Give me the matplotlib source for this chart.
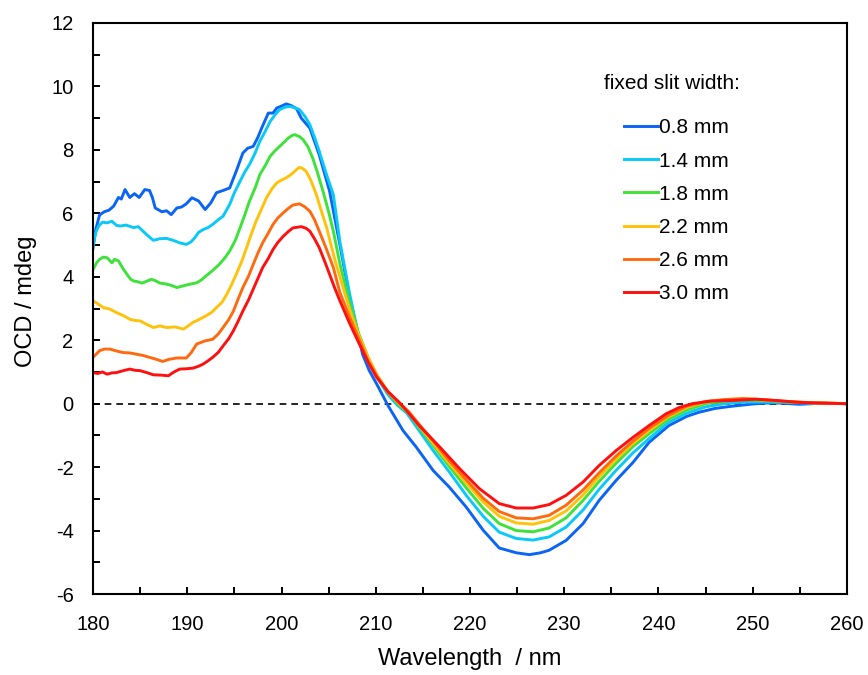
import matplotlib
matplotlib.use("Agg")
import matplotlib.pyplot as plt

plt.rcParams['font.family'] = ['Liberation Sans', 'DejaVu Sans']
plt.rcParams['axes.unicode_minus'] = False

labels = ["0.8 mm", "1.4 mm", "1.8 mm", "2.2 mm", "2.6 mm", "3.0 mm"]
colors = ["#0a64f5", "#0ac8f8", "#3ee23a", "#ffc20a", "#ff6a10", "#ff1010"]

wl_08 = [180.0, 180.3, 180.7, 181.2, 181.7, 182.2, 182.7, 183.0, 183.4, 183.9, 184.4, 184.9, 185.5, 186.0,
         186.3, 186.6, 187.3, 187.8, 188.3, 188.9, 189.4, 189.9, 190.5, 191.2, 191.9, 192.5, 193.1, 193.8,
         194.5, 195.2, 195.9, 196.4, 197.0, 197.5, 197.9, 198.6, 199.1, 199.5, 200.0, 200.5, 201.0, 201.6,
         202.1, 203.0, 204.0, 205.1, 206.2, 207.2, 208.2, 208.6, 209.3, 210.1, 211.3, 212.9, 214.3, 216.1,
         217.8, 219.6, 221.4, 223.1, 224.9, 226.3, 227.5, 228.4, 230.2, 232.0, 233.7, 235.5, 237.3, 239.0,
         241.1, 243.0, 244.3, 246.0, 247.8, 250.0, 251.4, 253.0, 254.9, 257.0, 260.0]
ocd_08 = [4.9, 5.5, 5.95, 6.05, 6.1, 6.23, 6.5, 6.45, 6.75, 6.5, 6.62, 6.5, 6.75, 6.72,
          6.5, 6.17, 6.05, 6.08, 5.96, 6.17, 6.2, 6.3, 6.49, 6.39, 6.12, 6.33, 6.65, 6.72,
          6.8, 7.33, 7.9, 8.05, 8.11, 8.4, 8.69, 9.16, 9.16, 9.32, 9.38, 9.45, 9.4, 9.3,
          9.0, 8.69, 7.85, 6.7, 5.0, 3.4, 2.1, 1.56, 1.05, 0.62, -0.06, -0.85, -1.37, -2.11,
          -2.63, -3.26, -3.99, -4.55, -4.7, -4.76, -4.7, -4.62, -4.31, -3.78, -3.05, -2.42, -1.85, -1.22,
          -0.69, -0.4, -0.27, -0.15, -0.08, -0.01, 0.02, 0.02, -0.02, 0.01, 0.0]

wl_14 = [180.0, 180.3, 180.6, 181.0, 181.5, 182.0, 182.5, 182.9, 183.5, 184.3, 184.8, 185.3, 185.8, 186.4,
         187.1, 187.8, 188.5, 189.2, 189.9, 190.4, 190.8, 191.2, 191.7, 192.2, 192.7, 193.3, 193.8, 194.5,
         195.0, 195.6, 196.1, 196.6, 197.2, 197.7, 198.3, 198.8, 199.3, 199.8, 200.4, 200.9, 201.4, 201.9,
         202.5, 203.0, 203.5, 204.0, 204.8, 205.5, 206.2, 207.2, 208.2, 209.2, 210.1, 211.3, 212.3, 213.3,
         214.6, 216.1, 217.8, 219.6, 221.4, 223.1, 224.9, 226.7, 228.4, 230.2, 232.0, 233.7, 235.5, 237.3,
         239.0, 241.0, 243.0, 245.0, 247.0, 249.0, 251.0, 253.0, 256.0, 260.0]
ocd_14 = [5.0, 5.4, 5.6, 5.72, 5.7, 5.75, 5.62, 5.6, 5.63, 5.55, 5.58, 5.44, 5.3, 5.15,
          5.2, 5.21, 5.15, 5.07, 5.02, 5.1, 5.23, 5.4, 5.49, 5.55, 5.65, 5.8, 5.91, 6.28,
          6.65, 7.01, 7.3, 7.54, 7.9, 8.27, 8.6, 8.9, 9.1, 9.27, 9.35, 9.37, 9.33, 9.27,
          9.05, 8.8, 8.4, 7.96, 7.2, 6.59, 5.1, 3.5, 2.1, 1.3, 0.85, 0.28, -0.05, -0.3,
          -0.85, -1.48, -2.15, -2.89, -3.55, -4.05, -4.25, -4.3, -4.2, -3.89, -3.35, -2.7, -2.1, -1.55,
          -1.1, -0.6, -0.3, -0.1, 0.0, 0.05, 0.05, 0.04, 0.02, 0.0]

wl_18 = [180.0, 180.4, 180.7, 181.1, 181.5, 182.0, 182.3, 182.7, 183.2, 183.6, 184.0, 184.3, 184.8, 185.2,
         185.7, 186.2, 186.6, 187.1, 187.6, 188.2, 188.9, 189.4, 189.9, 190.5, 191.0, 191.5, 192.0, 192.7,
         193.4, 194.0, 194.5, 195.1, 195.6, 196.1, 196.6, 197.2, 197.7, 198.3, 198.8, 199.3, 199.8, 200.3,
         200.7, 201.1, 201.4, 201.9, 202.3, 202.8, 203.3, 203.8, 204.4, 205.0, 205.5, 206.2, 207.2, 208.2,
         209.2, 210.1, 211.3, 212.5, 213.5, 214.6, 216.1, 217.8, 219.6, 221.4, 223.1, 224.9, 226.7, 228.4,
         230.2, 232.0, 233.7, 235.5, 237.3, 239.0, 241.0, 243.0, 245.0, 247.0, 249.0, 251.0, 253.0, 256.0, 260.0]
ocd_18 = [4.23, 4.45, 4.55, 4.62, 4.6, 4.44, 4.55, 4.5, 4.25, 4.08, 3.92, 3.87, 3.84, 3.8,
          3.86, 3.92, 3.88, 3.8, 3.78, 3.74, 3.66, 3.7, 3.74, 3.78, 3.81, 3.9, 4.03, 4.2,
          4.39, 4.6, 4.81, 5.15, 5.54, 5.95, 6.38, 6.8, 7.22, 7.52, 7.8, 7.97, 8.11, 8.25,
          8.37, 8.45, 8.48, 8.42, 8.32, 8.1, 7.75, 7.3, 6.7, 6.05, 5.44, 4.4, 3.2, 2.2,
          1.45, 0.92, 0.35, -0.05, -0.3, -0.75, -1.32, -1.98, -2.65, -3.3, -3.78, -4.0, -4.04, -3.92,
          -3.6, -3.05, -2.45, -1.88, -1.35, -0.95, -0.5, -0.2, 0.0, 0.08, 0.12, 0.1, 0.07, 0.03, 0.0]

wl_22 = [180.0, 180.5, 181.1, 181.8, 182.5, 183.2, 183.9, 184.5, 185.0, 185.7, 186.4, 187.1, 187.8, 188.7,
         189.6, 190.1, 190.6, 191.3, 192.0, 192.6, 193.1, 193.7, 194.2, 194.7, 195.2, 195.8, 196.3, 196.8,
         197.3, 197.9, 198.4, 199.0, 199.5, 200.0, 200.5, 200.9, 201.2, 201.6, 201.9, 202.2, 202.6, 203.1,
         203.7, 204.2, 204.8, 205.3, 205.8, 206.2, 207.2, 208.2, 209.2, 210.1, 211.3, 212.5, 213.5, 214.6,
         216.1, 217.8, 219.6, 221.4, 223.1, 224.9, 226.7, 228.4, 230.2, 232.0, 233.7, 235.5, 237.3, 239.0,
         241.0, 243.0, 245.0, 247.0, 249.0, 251.0, 253.0, 256.0, 260.0]
ocd_22 = [3.24, 3.15, 3.03, 2.98, 2.87, 2.78, 2.66, 2.62, 2.61, 2.5, 2.4, 2.45, 2.4, 2.42,
          2.35, 2.45, 2.56, 2.66, 2.77, 2.88, 3.03, 3.2, 3.45, 3.75, 4.08, 4.5, 4.92, 5.35,
          5.75, 6.15, 6.49, 6.78, 6.96, 7.05, 7.12, 7.2, 7.27, 7.38, 7.45, 7.42, 7.33, 7.05,
          6.59, 6.1, 5.54, 4.95, 4.39, 4.0, 3.0, 2.15, 1.45, 0.92, 0.37, 0.0, -0.28, -0.7,
          -1.25, -1.88, -2.5, -3.1, -3.55, -3.76, -3.8, -3.68, -3.38, -2.88, -2.3, -1.75, -1.25, -0.85,
          -0.42, -0.12, 0.05, 0.12, 0.16, 0.12, 0.08, 0.03, 0.0]

wl_26 = [180.0, 180.3, 180.7, 181.2, 181.8, 182.5, 183.2, 183.9, 184.6, 185.3, 186.0, 186.7, 187.4, 188.1,
         188.9, 189.9, 190.4, 191.0, 191.9, 192.7, 193.3, 193.8, 194.4, 194.9, 195.4, 195.9, 196.5, 197.0,
         197.5, 198.0, 198.6, 199.1, 199.6, 200.2, 200.7, 201.2, 201.9, 202.4, 203.0, 203.5, 204.0, 204.8,
         205.5, 206.2, 207.2, 208.2, 209.2, 210.1, 211.3, 212.5, 213.5, 214.6, 216.1, 217.8, 219.6, 221.4,
         223.1, 224.9, 226.7, 228.4, 230.2, 232.0, 233.7, 235.5, 237.3, 239.0, 241.0, 243.0, 245.0, 247.0,
         249.0, 251.0, 253.0, 256.0, 260.0]
ocd_26 = [1.46, 1.55, 1.67, 1.72, 1.72, 1.66, 1.61, 1.6, 1.56, 1.52, 1.46, 1.4, 1.33, 1.4,
          1.44, 1.44, 1.6, 1.88, 1.98, 2.03, 2.2, 2.4, 2.65, 2.92, 3.3, 3.66, 4.02, 4.39,
          4.75, 5.07, 5.38, 5.65, 5.85, 6.02, 6.15, 6.26, 6.3, 6.22, 6.07, 5.8, 5.44, 4.85,
          4.29, 3.5, 2.75, 2.05, 1.35, 0.88, 0.36, 0.02, -0.25, -0.65, -1.18, -1.8, -2.4, -2.98,
          -3.4, -3.6, -3.63, -3.52, -3.2, -2.72, -2.18, -1.65, -1.18, -0.78, -0.38, -0.08, 0.07, 0.13,
          0.16, 0.13, 0.08, 0.03, 0.0]

wl_30 = [180.0, 180.5, 181.0, 181.5, 182.0, 182.5, 183.2, 183.9, 184.5, 185.0, 185.7, 186.4, 187.2, 188.0,
         188.6, 189.2, 189.9, 190.6, 191.2, 191.7, 192.2, 192.7, 193.3, 193.8, 194.4, 194.9, 195.4, 195.9,
         196.5, 197.0, 197.5, 198.0, 198.6, 199.1, 199.6, 200.2, 200.7, 201.2, 202.1, 202.6, 203.0, 203.5,
         204.0, 204.5, 205.1, 205.6, 206.2, 207.2, 208.1, 209.2, 210.1, 211.3, 212.5, 213.5, 214.6, 216.8,
         218.9, 221.0, 223.1, 224.9, 226.7, 228.4, 230.2, 232.0, 233.7, 235.5, 237.3, 239.0, 240.8, 242.2,
         243.6, 245.5, 247.8, 250.3, 252.5, 254.9, 257.0, 260.0]
ocd_30 = [0.98, 0.95, 1.0, 0.93, 0.97, 0.98, 1.04, 1.09, 1.05, 1.04, 0.98, 0.91, 0.9, 0.88,
          1.0, 1.09, 1.1, 1.12, 1.18, 1.25, 1.35, 1.46, 1.62, 1.82, 2.05, 2.3, 2.6, 2.92,
          3.27, 3.61, 3.95, 4.29, 4.58, 4.86, 5.08, 5.28, 5.42, 5.54, 5.58, 5.53, 5.44, 5.2,
          4.92, 4.55, 4.08, 3.68, 3.24, 2.55, 1.98, 1.3, 0.83, 0.38, 0.04, -0.3, -0.69, -1.37,
          -2.05, -2.68, -3.15, -3.29, -3.29, -3.18, -2.89, -2.47, -1.95, -1.48, -1.06, -0.69, -0.32, -0.12,
          0.0, 0.08, 0.1, 0.14, 0.1, 0.04, 0.02, 0.0]

x_ticks = [180, 190, 200, 210, 220, 230, 240, 250, 260]
y_ticks = [-6, -4, -2, 0, 2, 4, 6, 8, 10, 12]

series = [(wl_08, ocd_08), (wl_14, ocd_14), (wl_18, ocd_18),
          (wl_22, ocd_22), (wl_26, ocd_26), (wl_30, ocd_30)]

fig = plt.figure(figsize=(8.68, 6.75), dpi=100)
ax = fig.add_axes([93 / 868, 1 - 594 / 675, 754 / 868, 571 / 675])

ax.axhline(0, color='black', lw=1.2, ls=(0, (4, 3)), zorder=1)

handles = []
for (x, y), c, lab in zip(series, colors, labels):
    h, = ax.plot(x, y, color=c, lw=2.1, label=lab, zorder=2)
    handles.append(h)

ax.set_xlim(180, 260)
ax.set_ylim(-6, 12)
ax.set_xticks(x_ticks)
ax.set_xticks(range(185, 260, 10), minor=True)
ax.set_yticks(y_ticks)
ax.set_yticks(range(-5, 12, 2), minor=True)
ax.tick_params(which='both', direction='in', length=5, width=1.4, top=False, right=False)
ax.tick_params(axis='x', which='major', labelsize=14.5, pad=15)
ax.tick_params(axis='y', which='major', labelsize=14.5, pad=14)
for s in ax.spines.values():
    s.set_linewidth(1.5)

ax.set_xlabel("Wavelength  / nm", fontsize=17)
ax.set_ylabel("OCD / mdeg", fontsize=17)
ax.xaxis.set_label_coords(0.5, -0.094)
ax.yaxis.set_label_coords(-0.074, 0.512)

ax.text(0.768, 0.894, "fixed slit width:", transform=ax.transAxes, fontsize=15,
        ha='center', va='center')
ax.legend(handles=handles, loc='upper left', bbox_to_anchor=(0.704, 0.833), frameon=False,
          fontsize=15, handlelength=1.63, handletextpad=0.08, labelspacing=0.68,
          borderpad=0, borderaxespad=0)

fig.savefig("out.png", dpi=100)
